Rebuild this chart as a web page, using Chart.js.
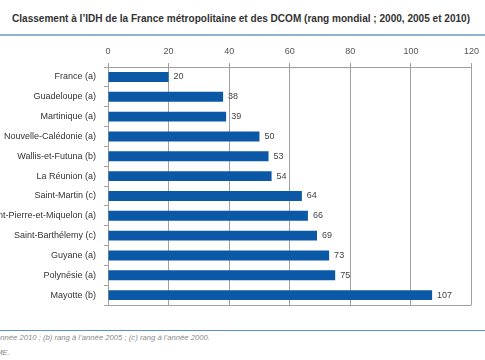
<!DOCTYPE html>
<html><head><meta charset="utf-8">
<script src="https://cdn.jsdelivr.net/npm/chart.js@4"></script>
<style>
html,body{margin:0;padding:0;background:#fff;width:485px;height:360px;overflow:hidden;position:relative;font-family:"Liberation Sans",Arial,sans-serif;}
#title{position:absolute;left:12px;top:12px;font-weight:bold;font-size:11px;color:#333;white-space:nowrap;transform-origin:0 0;}
#topline{position:absolute;left:0;top:34px;width:485px;height:2px;background:#8fb3d3;}
#botline{position:absolute;left:0;top:330px;width:485px;height:1px;background:#5b92c8;}
.note{position:absolute;font-style:italic;font-size:7.7px;color:#8a8a8a;white-space:nowrap;}
#wrap{position:absolute;left:0;top:0;width:485px;height:330px;}
</style></head><body>
<div id="title">Classement à l’IDH de la France métropolitaine et des DCOM (rang mondial ; 2000, 2005 et 2010)</div>
<div id="topline"></div>
<div id="wrap"><canvas id="c"></canvas></div>
<div id="botline"></div>
<div class="note" id="n1" style="left:-43px;top:333px;">(a) rang à l’année 2010 ; (b) rang à l’année 2005 ; (c) rang à l’année 2000.</div>
<div class="note" id="n2" style="left:-50px;top:348px;">Source : SOeME.</div>
<script>
const categories = ["France (a)","Guadeloupe (a)","Martinique (a)","Nouvelle-Calédonie (a)","Wallis-et-Futuna (b)","La Réunion (a)","Saint-Martin (c)","Saint-Pierre-et-Miquelon (a)","Saint-Barthélemy (c)","Guyane (a)","Polynésie (a)","Mayotte (b)"];
const ranks = [20,38,39,50,53,54,64,66,69,73,75,107];
const xTicks = [0,20,40,60,80,100,120];

(function(){
  const t = document.getElementById('title');
  const w = t.getBoundingClientRect().width;
  t.style.transform = 'scaleX(' + (458 / w) + ')';
})();

const valueLabels = {
  id:'valueLabels',
  afterDatasetsDraw(chart){
    const ctx = chart.ctx;
    const meta = chart.getDatasetMeta(0);
    ctx.save();
    ctx.font = '9px "Liberation Sans", Arial, sans-serif';
    ctx.fillStyle = '#444';
    ctx.textBaseline = 'middle';
    ctx.textAlign = 'left';
    meta.data.forEach((bar,i)=>{
      ctx.fillText(String(chart.data.datasets[0].data[i]), bar.x + 5, bar.y);
    });
    ctx.restore();
  }
};
const frame = {
  id:'frame',
  beforeDatasetsDraw(chart){
    const a = chart.chartArea, ctx = chart.ctx;
    ctx.save();
    ctx.strokeStyle = '#a0a0a0';
    ctx.lineWidth = 1;
    ctx.beginPath();
    ctx.moveTo(a.left, Math.round(a.bottom)+0.5);
    ctx.lineTo(a.right, Math.round(a.bottom)+0.5);
    ctx.stroke();
    ctx.restore();
  }
};

new Chart(document.getElementById('c'), {
  type:'bar',
  data:{labels:categories, datasets:[{data:ranks, backgroundColor:'#0b58a6', borderWidth:0, barPercentage:0.5, categoryPercentage:1}]},
  options:{
    indexAxis:'y', responsive:true, maintainAspectRatio:false, animation:false,
    layout:{padding:{left:0,right:13,top:0,bottom:25}},
    plugins:{legend:{display:false}, tooltip:{enabled:false}},
    scales:{
      x:{position:'top', min:0, max:120, afterBuildTicks(s){ s.ticks = xTicks.map(v=>({value:v})); },
        afterFit(s){ s.height = 67; },
        grid:{color:'#a0a0a0', lineWidth:1, tickLength:4, drawTicks:true},
        border:{display:true,color:'#a0a0a0'},
        ticks:{color:'#555', font:{size:9, family:'"Liberation Sans", Arial, sans-serif'}, padding:6, maxRotation:0}
      },
      y:{afterFit(s){ s.width = 108; },
        grid:{drawOnChartArea:false, drawTicks:true, tickLength:4, color:'#a0a0a0', offset:true},
        border:{display:true,color:'#a0a0a0'},
        ticks:{color:'#333', font:{size:9, family:'"Liberation Sans", Arial, sans-serif'}, padding:8, autoSkip:false}
      }
    }
  },
  plugins:[valueLabels, frame]
});
</script>
</body></html>
